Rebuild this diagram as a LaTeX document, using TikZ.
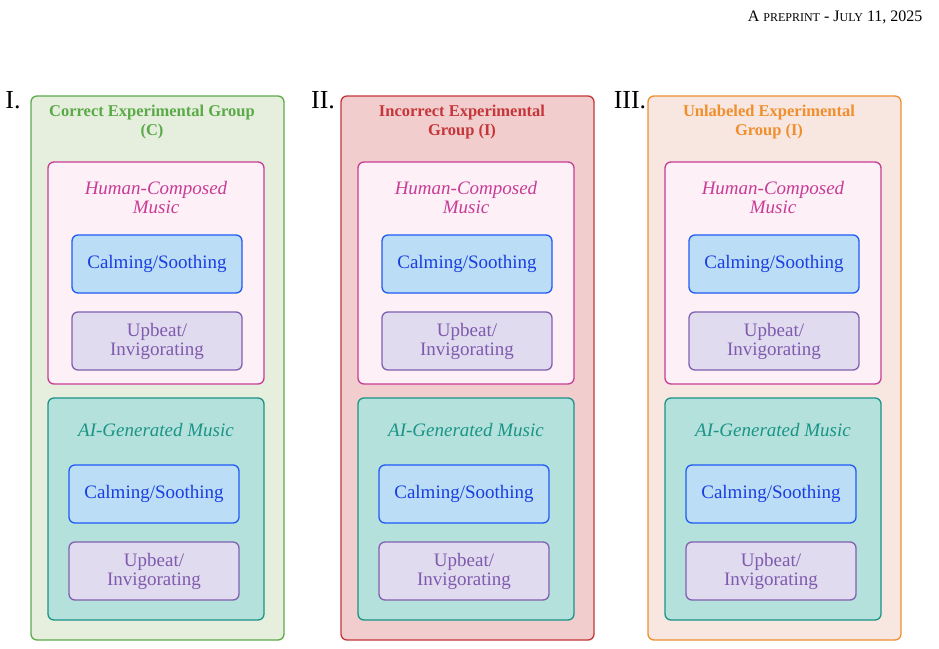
\documentclass[tikz,border=0pt]{standalone}
\usepackage{fontspec}
\setmainfont{Liberation Serif}
\begin{document}
\begin{tikzpicture}[x=1pt,y=-1pt,
 box/.style={draw,rounded corners=6pt,line width=1.3pt},
 txt/.style={font=\fontsize{19}{20}\selectfont,align=center},
 calm/.style={box,draw=cb,fill=cf},
 up/.style={box,draw=ub,fill=uf},
 human/.style={box,draw=hb,fill=hf},
 ai/.style={box,draw=ab,fill=af},
 roman/.style={font=\fontsize{26}{26}\selectfont}]
\definecolor{cb}{HTML}{1F5BF5}\definecolor{cf}{HTML}{BBDDF5}\definecolor{ct}{HTML}{1A3FE0}
\definecolor{ub}{HTML}{8060B0}\definecolor{uf}{HTML}{E0DBEE}\definecolor{ut}{HTML}{7F5AAE}
\definecolor{hb}{HTML}{C83C96}\definecolor{hf}{HTML}{FDF0F6}
\definecolor{ab}{HTML}{1A9488}\definecolor{af}{HTML}{B4E1DB}
\definecolor{gC}{HTML}{5AAA48}\definecolor{gCf}{HTML}{E6EEDD}
\definecolor{gI}{HTML}{C4363A}\definecolor{gIf}{HTML}{F2CDCD}
\definecolor{gU}{HTML}{EF8F2E}\definecolor{gUf}{HTML}{F8E6E0}
\useasboundingbox (0,0) rectangle (939,648);
\node[anchor=east,font=\fontsize{16}{16}\selectfont] (hdr) at (926,17) {A {\fontsize{12}{12}\selectfont PREPRINT} - J{\fontsize{12}{12}\selectfont ULY} 11, 2025};
\foreach \dx/\rn/\col/\fil/\ta/\tb/\id in {0/I./gC/gCf/Correct Experimental Group/(C)/a, 310/II./gI/gIf/Incorrect Experimental/Group (I)/b, 617/III./gU/gUf/Unlabeled Experimental/Group (I)/c}{
 \begin{scope}[xshift=\dx]
 \node[roman,anchor=north] (r\id) at (13,88) {\rn};
 \draw[box,draw=\col,fill=\fil] (31,96) rectangle (284,640);
 \node[font=\bfseries\fontsize{16.5}{19}\selectfont,text=\col,align=center] (t\id) at (152,122) {\ta\\\tb};
 \draw[human] (48,162) rectangle (264,384);
 \node[txt,font=\itshape\fontsize{19}{19}\selectfont,text=hb] (h\id) at (156,198) {Human-Composed\\Music};
 \draw[calm] (72,235) rectangle (242,293);
 \node[txt,text=ct] (c1\id) at (157,264) {Calming/Soothing};
 \draw[up] (72,312) rectangle (242,370);
 \node[txt,text=ut,font=\fontsize{19}{19}\selectfont] (u1\id) at (157,341) {Upbeat/\\Invigorating};
 \draw[ai] (48,398) rectangle (264,620);
 \node[txt,font=\itshape\fontsize{19}{19}\selectfont,text=ab] (g\id) at (156,430) {AI-Generated Music};
 \draw[calm] (69,465) rectangle (239,523);
 \node[txt,text=ct] (c2\id) at (154,494) {Calming/Soothing};
 \draw[up] (69,542) rectangle (239,600);
 \node[txt,text=ut,font=\fontsize{19}{19}\selectfont] (u2\id) at (154,571) {Upbeat/\\Invigorating};
 \end{scope}}
\end{tikzpicture}
\end{document}
